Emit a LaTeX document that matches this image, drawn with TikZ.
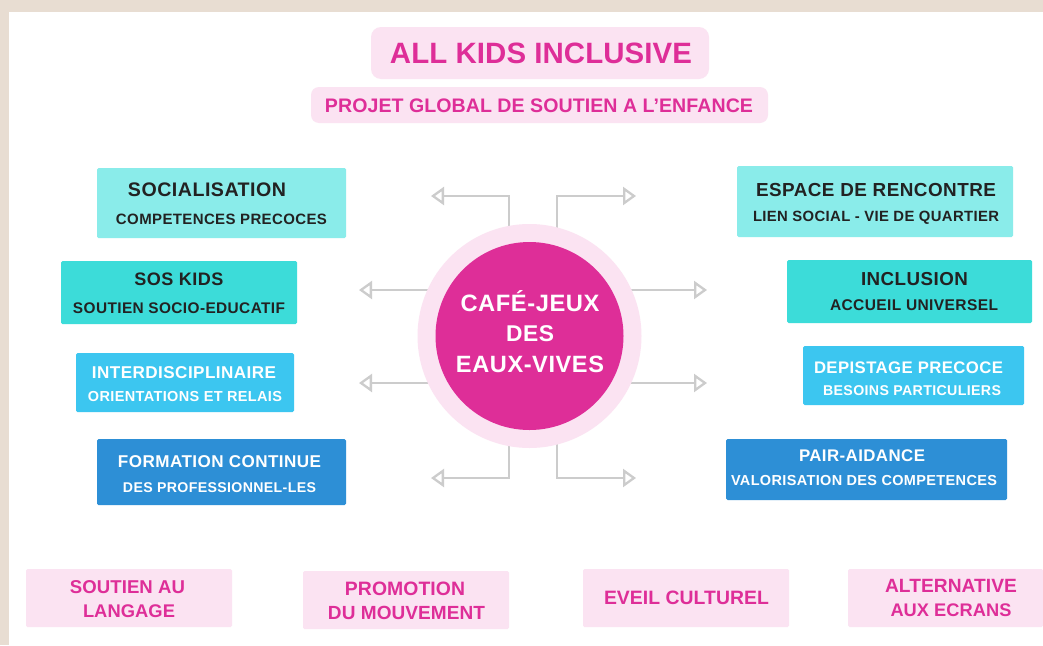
\documentclass[tikz,border=0pt]{standalone}
\usepackage{fontspec}
\usepackage{graphicx}
\setmainfont{Liberation Sans}[BoldFont={Liberation Sans Bold}]
\newfontfamily\lblfont{Liberation Sans Bold}[LetterSpace=2.5]
\newfontfamily\pinkfont{Liberation Sans Bold}[LetterSpace=0.3]
\usetikzlibrary{arrows.meta}
\pgfdeclarelayer{base}
\pgfdeclarelayer{wires}
\pgfsetlayers{base,wires,main}
\definecolor{bgbeige}{HTML}{E8DDD2}
\definecolor{pinkpale}{HTML}{FBE3F2}
\definecolor{pinkstrong}{HTML}{DE2E98}
\definecolor{tealpale}{HTML}{8AECEA}
\definecolor{tealmid}{HTML}{3CDCD9}
\definecolor{skyblue}{HTML}{3CC6F0}
\definecolor{deepblue}{HTML}{2D8FD6}
\definecolor{darktext}{HTML}{222222}
\definecolor{linegray}{HTML}{CCCCCC}
\tikzset{
  boxshape/.style={rectangle,inner sep=0pt,outer sep=0pt,rounded corners=1.5pt},
  lbl/.style={inner sep=0pt,outer sep=0pt,font=\lblfont},
  conn/.style={draw=linegray,line width=2.3pt,-{Triangle[open,length=13pt,width=18pt,line width=2.3pt]}},
}
\newcommand{\bx}[7][]{\node[boxshape,fill=#7,minimum width={(#5-#3)*1pt},minimum height={(#6-#4)*1pt},#1] (#2) at ({(#3+#5)/2},{(#4+#6)/2}) {};}
\newcommand{\lb}[6]{\node[lbl,text=#5] (#1) at (#2,#3) {\resizebox{#4pt}{!}{#6}};}
\newcommand{\lp}[5]{\node[lbl,text=pinkstrong] (#1) at (#2,#3) {\resizebox{#4pt}{!}{\pinkfont #5}};}
\begin{document}
\begin{tikzpicture}[x=1pt,y=-1pt]
\useasboundingbox (0,0) rectangle (1043,645);
\begin{pgfonlayer}{base}
\fill[bgbeige] (0,0) rectangle (1043,645);
\fill[white] (9,12) rectangle (1043,645);
\end{pgfonlayer}
% header
\bx[rounded corners=10pt]{title}{371}{27}{709}{79}{pinkpale}
\bx[rounded corners=8pt]{sub}{311}{87}{768}{123}{pinkpale}
\lp{tTitle}{541}{53.5}{302}{ALL KIDS INCLUSIVE}
\lp{tSub}{539}{105.5}{428}{PROJET GLOBAL DE SOUTIEN A L’ENFANCE}
% left boxes
\bx{soc}{97}{168}{346}{238}{tealpale}
\bx{sos}{61}{261}{297}{324}{tealmid}
\bx{inter}{76}{353}{294}{412}{skyblue}
\bx{form}{97}{439}{346}{505}{deepblue}
% right boxes
\bx{esp}{737}{166}{1013}{237}{tealpale}
\bx{incl}{787}{260}{1032}{323}{tealmid}
\bx{dep}{803}{346}{1024}{405}{skyblue}
\bx{pair}{726}{439}{1007}{500}{deepblue}
% bottom boxes
\bx{b1}{26}{569}{232}{627}{pinkpale}
\bx{b2}{303}{571}{509}{629}{pinkpale}
\bx{b3}{583}{569}{789}{627}{pinkpale}
\bx{b4}{848}{569}{1043}{627}{pinkpale}
% labels
\lb{t1a}{207}{190}{158}{darktext}{SOCIALISATION}
\lb{t1b}{221.5}{219}{211}{darktext}{COMPETENCES PRECOCES}
\lb{t2a}{179}{279}{89}{darktext}{SOS KIDS}
\lb{t2b}{179}{308}{212}{darktext}{SOUTIEN SOCIO-EDUCATIF}
\lb{t3a}{184}{373}{184}{white}{INTERDISCIPLINAIRE}
\lb{t3b}{185}{397}{194}{white}{ORIENTATIONS ET RELAIS}
\lb{t4a}{219.5}{462}{203}{white}{FORMATION CONTINUE}
\lb{t4b}{219.5}{488}{193}{white}{DES PROFESSIONNEL-LES}
\lb{t5a}{876}{190}{240}{darktext}{ESPACE DE RENCONTRE}
\lb{t5b}{876}{218}{246}{darktext}{LIEN SOCIAL - VIE DE QUARTIER}
\lb{t6a}{914.5}{279}{107}{darktext}{INCLUSION}
\lb{t6b}{914}{305}{168}{darktext}{ACCUEIL UNIVERSEL}
\lb{t7a}{908.5}{368}{189}{white}{DEPISTAGE PRECOCE}
\lb{t7b}{912}{391}{178}{white}{BESOINS PARTICULIERS}
\lb{t8a}{862}{456}{126}{white}{PAIR-AIDANCE}
\lb{t8b}{864}{481}{266}{white}{VALORISATION DES COMPETENCES}
\lp{t9a}{127.5}{587}{115}{SOUTIEN AU}
\lp{t9b}{129}{611}{92}{LANGAGE}
\lp{t10a}{405}{589}{120}{PROMOTION}
\lp{t10b}{406.5}{613}{157}{DU MOUVEMENT}
\lp{t11}{686.5}{598}{165}{EVEIL CULTUREL}
\lp{t12a}{951}{586}{132}{ALTERNATIVE}
\lp{t12b}{951}{610}{121}{AUX ECRANS}
% centre
\node[circle,fill=pinkpale,inner sep=0pt,outer sep=0pt,minimum size=224pt] (hub) at (529.5,336) {};
\node[circle,fill=pinkstrong,inner sep=0pt,outer sep=0pt,minimum size=188pt] (core) at (hub) {};
\lb{c1}{530}{301}{139}{white}{CAFÉ-JEUX}
\lb{c2}{530}{333.5}{48}{white}{DES}
\lb{c3}{530}{364}{148}{white}{EAUX-VIVES}
% arrow ends and elbows
\coordinate (tl1) at (431,196);
\coordinate (tr1) at (636,196);
\coordinate (tl2) at (359,290);
\coordinate (tr2) at (707,290);
\coordinate (tl3) at (359,383);
\coordinate (tr3) at (707,383);
\coordinate (tl4) at (431,478);
\coordinate (tr4) at (636,478);
\coordinate (xl) at (509,336);
\coordinate (xr) at (557,336);
% connectors, on a layer under the hub
\begin{pgfonlayer}{wires}
\draw[conn] (xl) |- (tl1);
\draw[conn] (xr) |- (tr1);
\draw[conn] (hub.center |- tl2) -- (tl2);
\draw[conn] (hub.center |- tr2) -- (tr2);
\draw[conn] (hub.center |- tl3) -- (tl3);
\draw[conn] (hub.center |- tr3) -- (tr3);
\draw[conn] (xl) |- (tl4);
\draw[conn] (xr) |- (tr4);
\end{pgfonlayer}
\end{tikzpicture}
\end{document}
